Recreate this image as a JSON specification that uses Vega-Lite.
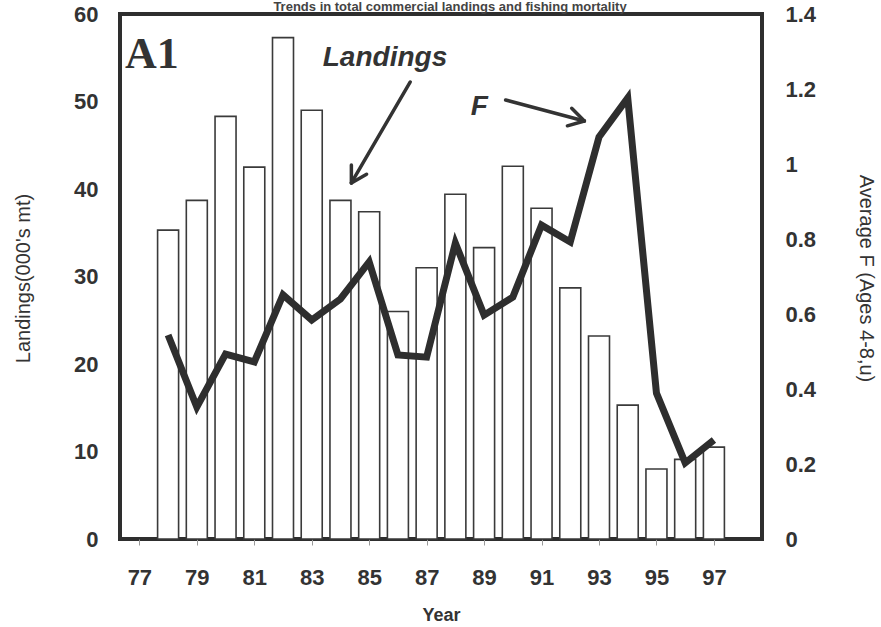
{
  "$schema": "https://vega.github.io/schema/vega-lite/v6.json",
  "autosize": "none",
  "width": 642,
  "height": 525,
  "padding": {"left": 120, "top": 14, "right": 119, "bottom": 88},
  "background": "white",
  "title": {
    "text": "Trends in total commercial landings and fishing mortality",
    "font": "Liberation Sans",
    "fontWeight": "bold",
    "fontSize": 13,
    "color": "#444",
    "baseline": "alphabetic",
    "offset": -21,
    "dx": 9
  },
  "config": {
    "view": {"stroke": "#2e2e2e", "strokeWidth": 4},
    "axis": {
      "labelFont": "Liberation Sans",
      "labelFontWeight": "bold",
      "labelFontSize": 21,
      "labelColor": "#333",
      "titleFont": "Liberation Sans",
      "titleColor": "#333",
      "grid": false,
      "domain": false
    }
  },
  "datasets": {
    "main": [
      {"year": 78, "landings": 35.3, "F": 0.544},
      {"year": 79, "landings": 38.7, "F": 0.352},
      {"year": 80, "landings": 48.3, "F": 0.493},
      {"year": 81, "landings": 42.5, "F": 0.472},
      {"year": 82, "landings": 57.3, "F": 0.651},
      {"year": 83, "landings": 49.0, "F": 0.584},
      {"year": 84, "landings": 38.7, "F": 0.64},
      {"year": 85, "landings": 37.4, "F": 0.739},
      {"year": 86, "landings": 26.0, "F": 0.491},
      {"year": 87, "landings": 31.0, "F": 0.485},
      {"year": 88, "landings": 39.4, "F": 0.789},
      {"year": 89, "landings": 33.3, "F": 0.597},
      {"year": 90, "landings": 42.6, "F": 0.645},
      {"year": 91, "landings": 37.8, "F": 0.837},
      {"year": 92, "landings": 28.7, "F": 0.792},
      {"year": 93, "landings": 23.2, "F": 1.072},
      {"year": 94, "landings": 15.3, "F": 1.176},
      {"year": 95, "landings": 8.0, "F": 0.389},
      {"year": 96, "landings": 9.1, "F": 0.203},
      {"year": 97, "landings": 10.5, "F": 0.264}
    ],
    "arrows": [
      {"x": 86.43, "y": 52.23, "x2": 84.38, "y2": 40.69},
      {"x": 84.38, "y": 40.69, "x2": 84.91, "y2": 41.69},
      {"x": 84.38, "y": 40.69, "x2": 84.38, "y2": 42.74},
      {"x": 89.75, "y": 50.17, "x2": 92.49, "y2": 47.77},
      {"x": 92.49, "y": 47.77, "x2": 92.05, "y2": 49.22},
      {"x": 92.49, "y": 47.77, "x2": 91.90, "y2": 47.22}
    ],
    "sans": [
      {"label": "Landings", "x": 85.55, "y": 54.1},
      {"label": "F", "x": 88.83, "y": 48.5}
    ],
    "serif": [
      {"label": "A1", "x": 76.5, "y": 53.8}
    ]
  },
  "layer": [
    {
      "data": {"name": "main"},
      "mark": {"type": "bar", "width": 21, "fill": "white", "stroke": "#3a3a3a", "strokeWidth": 1.6},
      "encoding": {
        "x": {
          "field": "year", "type": "quantitative",
          "scale": {"domain": [76.5, 98.5], "nice": false, "zero": false},
          "axis": {
            "values": [77, 79, 81, 83, 85, 87, 89, 91, 93, 95, 97],
            "format": "d",
            "ticks": true, "tickSize": 6, "tickColor": "#999",
            "labelPadding": 32,
            "labelBaseline": "middle",
            "labelFontSize": 22,
            "title": "Year",
            "titleFontSize": 18,
            "titleFontWeight": "bold",
            "titleBaseline": "middle",
            "titleY": 76
          }
        },
        "y": {
          "field": "landings", "type": "quantitative",
          "scale": {"domain": [0, 60], "nice": false},
          "axis": {
            "orient": "left",
            "values": [0, 10, 20, 30, 40, 50, 60],
            "ticks": false,
            "labelPadding": 22,
            "labelBaseline": "middle",
            "labelFontSize": 22,
            "title": "Landings(000's mt)",
            "titleFontSize": 20,
            "titleFontWeight": "normal",
            "titleBaseline": "middle",
            "titleX": -97,
            "titleY": 264
          }
        }
      }
    },
    {
      "data": {"name": "main"},
      "mark": {"type": "line", "color": "#2e2e2e", "strokeWidth": 7, "strokeJoin": "miter"},
      "encoding": {
        "x": {"field": "year", "type": "quantitative"},
        "y": {
          "field": "F", "type": "quantitative",
          "scale": {"domain": [0, 1.4], "nice": false},
          "axis": {
            "orient": "right",
            "values": [0, 0.2, 0.4, 0.6, 0.8, 1, 1.2, 1.4],
            "format": "~g",
            "ticks": false,
            "labelPadding": 23,
            "labelBaseline": "middle",
            "labelFontSize": 22,
            "title": "Average F (Ages 4-8,u)",
            "titleFontSize": 20,
            "titleFontWeight": "normal",
            "titleBaseline": "middle",
            "titleX": 103,
            "titleY": 264
          }
        }
      }
    },
    {
      "data": {"name": "arrows"},
      "mark": {"type": "rule", "color": "#333", "strokeWidth": 3.5, "strokeCap": "round"},
      "encoding": {
        "x": {"field": "x", "type": "quantitative"},
        "x2": {"field": "x2"},
        "y": {"field": "y", "type": "quantitative", "scale": {"domain": [0, 60], "nice": false}, "axis": null},
        "y2": {"field": "y2"}
      }
    },
    {
      "data": {"name": "sans"},
      "mark": {"type": "text", "font": "Liberation Sans", "fontStyle": "italic", "fontWeight": "bold", "fontSize": 28, "color": "#333", "align": "center", "baseline": "alphabetic"},
      "encoding": {
        "x": {"field": "x", "type": "quantitative"},
        "y": {"field": "y", "type": "quantitative", "scale": {"domain": [0, 60], "nice": false}, "axis": null},
        "text": {"field": "label"}
      }
    },
    {
      "data": {"name": "serif"},
      "mark": {"type": "text", "font": "Liberation Serif", "fontWeight": "bold", "fontSize": 44, "color": "#333", "align": "left", "baseline": "alphabetic"},
      "encoding": {
        "x": {"field": "x", "type": "quantitative"},
        "y": {"field": "y", "type": "quantitative", "scale": {"domain": [0, 60], "nice": false}, "axis": null},
        "text": {"field": "label"}
      }
    }
  ],
  "resolve": {"scale": {"y": "independent"}}
}
